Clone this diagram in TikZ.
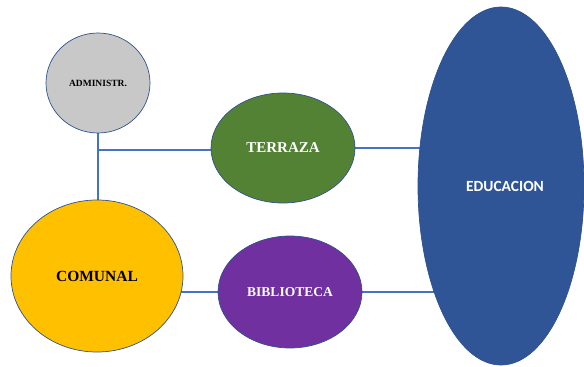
\documentclass[tikz,border=0pt]{standalone}
\usepackage{fontspec}
\setmainfont{Liberation Serif}
\newfontfamily\carlito{Carlito}
\usetikzlibrary{shapes.geometric,backgrounds}
\definecolor{outl}{HTML}{2F528F}
\definecolor{conn}{HTML}{4472C4}
\definecolor{cgray}{HTML}{C8C8C8}
\definecolor{cgreen}{HTML}{548235}
\definecolor{corange}{HTML}{FFC000}
\definecolor{cpurple}{HTML}{7030A0}
\definecolor{cblue}{HTML}{2F5597}
\tikzset{
  bubble/.style={ellipse, draw=outl, line width=0.7pt, inner sep=0pt, align=center},
  link/.style={draw=conn, line width=1.8pt}
}
\begin{document}
\begin{tikzpicture}[x=1pt,y=-1pt]
\useasboundingbox (0,0) rectangle (584,367);
\node[bubble, fill=cgray, minimum width=104pt, minimum height=100pt,
  font=\fontsize{9.5}{11}\selectfont\bfseries] (adm) at (98,83) {ADMINISTR.};
\node[bubble, fill=cgreen, minimum width=144pt, minimum height=110pt,
  text=white, font=\fontsize{15}{17}\selectfont\bfseries] (ter) at (283,148) {TERRAZA};
\node[bubble, fill=corange, minimum width=172pt, minimum height=152pt,
  font=\fontsize{15.5}{17}\selectfont\bfseries] (com) at (97,276) {COMUNAL};
\node[bubble, fill=cpurple, minimum width=144pt, minimum height=112pt,
  text=white, font=\fontsize{13.5}{15}\selectfont\bfseries] (bib) at (290,292) {BIBLIOTECA};
\node[bubble, fill=cblue, minimum width=166pt, minimum height=358pt] (edu) at (501,186) {};
\node[text=white, font=\carlito\fontsize{15.5}{17}\selectfont\bfseries] (edut) at (505,186) {EDUCACION};
\coordinate (j) at (98,150);
\begin{pgfonlayer}{background}
\draw[link] (adm.south) -- (adm.south |- com.north);
\draw[link] (j) -- (j -| ter.center);
\draw[link] (ter.center) -- (ter.center -| edu.center);
\draw[link] (com.center |- bib.center) -- (bib.center);
\draw[link] (bib.center) -- (bib.center -| edu.center);
\end{pgfonlayer}
\end{tikzpicture}
\end{document}
